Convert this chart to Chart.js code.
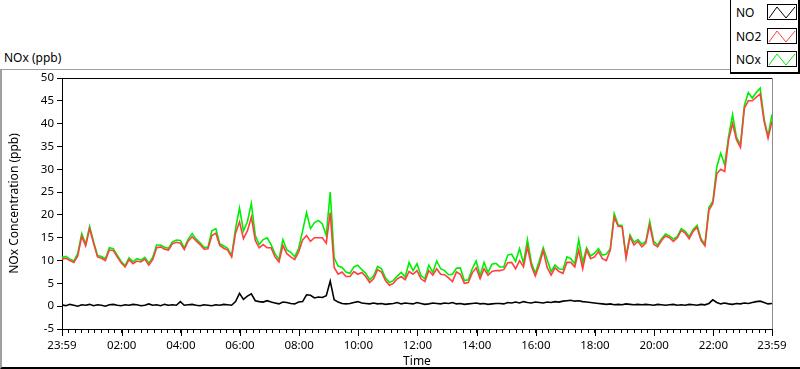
<!DOCTYPE html>
<html>
<head>
<meta charset="utf-8">
<script src="https://cdn.jsdelivr.net/npm/chart.js@4.4.1/dist/chart.umd.min.js"></script>
<style>
  body { margin: 0; background: #fff; font-family: "Noto Sans", sans-serif; color: #000; }
  #wrap { position: relative; width: 800px; height: 369px; overflow: hidden; }
  #frame { position: absolute; left: 0; top: 69px; width: 800px; height: 300px; box-sizing: border-box;
           border-top: 1px solid #a0a0a0; border-left: 2px solid #a0a0a0; border-bottom: 2px solid #000; }
  #title { position: absolute; left: 4px; top: 49px; font-size: 12px; }
  #chart { position: absolute; left: 0; top: 0; }
  #legend { position: absolute; left: 730px; top: -1px; width: 67px; height: 72px; background: #fff;
            border: 1px solid #000; border-width: 1px 2px 2px 1px; font-size: 12px; }
  .item { position: absolute; left: 5px; height: 18px; line-height: 18px; }
  .item svg { position: absolute; left: 31px; top: 0; border: 1px solid #000; background: #fff; }
</style>
</head>
<body>
<div id="wrap">
  <div id="frame"></div>
  <div id="title">NOx (ppb)</div>
  <canvas id="chart" width="800" height="369"></canvas>
  <div id="legend"></div>
</div>
<script>
// one sample every 8 minutes, first one at 23:59
const STEP_MIN = 8;

const noValues = [
  0.3,0.1,0.4,0.2,0.0,0.3,0.2,0.4,0.1,0.3,0.2,0.0,0.3,0.4,0.2,0.1,0.3,0.2,0.4,0.3,
  0.1,0.2,0.5,0.2,0.3,0.1,0.4,0.2,0.3,0.2,1.0,0.2,0.3,0.4,0.2,0.1,0.3,0.2,0.1,0.3,
  0.2,0.4,0.3,0.2,
  1.0,2.8,1.5,2.2,2.7,1.2,1.0,0.9,1.2,0.9,0.7,0.5,0.9,0.8,0.6,0.5,0.9,1.0,2.5,2.4,
  1.8,2.0,1.9,2.3,5.5,1.4,0.9,0.6,0.5,
  0.6,0.8,1.0,0.7,0.6,0.5,0.7,0.5,0.6,0.4,0.5,0.6,0.8,0.5,0.7,0.6,0.5,0.8,0.6,0.4,
  0.5,0.7,0.6,0.5,0.7,0.6,0.8,0.5,0.6,0.4,0.5,0.6,0.7,0.5,0.6,0.4,0.5,0.6,
  0.6,0.5,0.8,0.7,0.9,0.7,1.0,0.8,0.7,0.9,0.8,0.7,0.9,0.8,1.0,0.9,1.1,1.2,1.3,1.1,
  1.2,1.0,0.9,0.8,0.7,0.6,0.5,0.4,0.5,0.3,0.4,0.3,0.5,0.4,0.3,0.4,0.3,0.4,
  0.3,0.2,0.4,0.3,0.2,0.3,0.4,0.2,0.3,0.2,0.4,0.3,0.2,0.4,0.3,0.6,1.4,0.8,0.5,0.7,
  0.5,0.4,0.6,0.5,0.7,0.6,0.8,1.0,1.1,0.8,0.5,0.6
];

const no2Values = [
  10.3,10.5,10.0,9.6,11.0,15.3,13.2,17.0,13.8,10.8,10.5,10.0,12.3,12.2,10.8,9.5,8.6,10.2,9.3,9.9,
  9.7,10.3,9.0,10.2,12.8,13.0,12.5,12.3,13.7,14.0,13.8,12.4,14.3,15.2,14.3,13.5,12.5,
  12.6,15.5,16.0,13.3,12.7,12.3,10.8,16.0,18.5,14.8,16.5,19.5,14.4,12.8,13.5,12.8,12.8,10.8,9.7,13.3,
  11.5,10.8,10.2,11.9,14.5,15.5,14.2,15.0,15.0,15.0,13.8,20.5,8.5,7.0,7.5,6.5,
  6.5,7.6,7.0,7.4,6.5,5.2,6.0,8.0,7.5,5.6,4.6,5.0,6.0,6.5,5.8,7.6,7.0,7.8,6.0,5.4,
  7.8,6.8,8.2,7.0,6.9,6.2,5.4,7.5,7.0,5.0,5.2,7.3,8.4,6.0,8.2,6.8,7.6,7.8,
  7.8,8.0,9.5,9.6,8.2,10.0,8.6,13.0,8.8,6.6,9.0,12.2,8.5,6.8,8.4,7.6,7.2,9.6,9.6,8.6,
  12.3,8.2,12.3,10.4,10.8,12.0,10.4,10.0,12.3,19.5,17.5,17.4,10.5,15.2,13.4,14.2,13.0,13.8,
  17.8,13.6,13.0,14.4,15.4,15.0,14.2,15.0,16.6,16.0,14.8,16.4,17.3,14.4,13.2,21.0,22.5,29.0,30.0,29.5,
  36.5,40.0,36.5,34.8,43.4,45.0,45.0,45.8,46.5,40.5,36.8,40.5
];

const noxValues = [
  10.7,10.9,10.3,9.9,11.6,15.9,13.6,17.5,14.2,11.1,10.9,10.4,12.8,12.6,11.2,9.8,8.9,10.6,9.7,10.4,
  10.1,10.7,9.4,10.7,13.4,13.4,12.9,12.7,14.1,14.5,14.4,12.8,14.7,15.9,14.7,13.9,12.9,
  12.9,16.5,17.0,13.7,13.2,12.7,11.0,17.0,21.5,16.5,18.5,22.5,15.5,13.5,14.6,15.0,13.5,11.5,10.2,14.6,
  12.3,11.8,10.8,12.7,16.5,20.5,17.0,18.3,18.8,18.0,15.5,25.0,10.6,8.8,8.5,7.5,
  7.2,8.6,9.0,8.0,7.2,5.8,6.6,8.7,8.2,6.2,5.2,5.6,6.6,7.4,6.4,9.6,7.8,9.3,6.7,6.0,
  9.0,7.4,9.9,8.2,7.8,6.9,7.0,8.3,8.4,5.6,5.8,8.2,9.9,6.7,9.6,7.4,9.2,9.4,
  8.6,8.6,11.2,11.4,9.8,12.6,9.4,14.6,9.5,7.2,9.9,12.8,10.2,7.6,9.0,8.2,8.0,10.8,10.4,9.3,
  14.6,9.6,12.8,11.0,11.6,12.6,11.2,11.4,12.6,20.3,17.8,17.7,11.0,15.6,14.0,14.6,13.6,14.2,
  18.6,14.2,13.4,14.8,15.8,15.4,14.7,15.3,17.0,16.4,15.2,16.8,17.7,14.8,13.6,21.6,23.0,30.5,33.5,31.0,
  37.2,42.0,37.0,35.4,44.0,46.8,45.6,46.8,47.8,41.0,37.3,42.0
];

const seriesNames = ['NO', 'NO2', 'NOx'];
const seriesColors = ['#000000', '#ff4040', '#00ee00'];

// labelled x ticks, minutes after 23:59
const timeTickMinutes = [0, 121, 241, 361, 481, 601, 721, 841, 961, 1081, 1201, 1321, 1440];
const timeTickLabels = ['23:59', '02:00', '04:00', '06:00', '08:00', '10:00', '12:00',
                        '14:00', '16:00', '18:00', '20:00', '22:00', '23:59'];
const MINOR_PER_MAJOR = 9;

const yMin = -5, yMax = 50, yStep = 5;

function toPoints(vals) {
  return vals.map((v, i) => ({ x: i * STEP_MIN, y: v }));
}

function buildTimeTicks() {
  const ticks = [];
  timeTickMinutes.forEach((m, k) => {
    ticks.push({ value: m, major: true });
    const next = timeTickMinutes[k + 1];
    if (next === undefined) return;
    const step = 120 / MINOR_PER_MAJOR;
    for (let v = m + step; v < next - 4; v += step) ticks.push({ value: v, major: false });
  });
  return ticks;
}

const framePlugin = {
  id: 'frameLines',
  afterDraw(chart) {
    const { ctx, chartArea: a } = chart;
    ctx.save();
    ctx.lineWidth = 1;
    ctx.strokeStyle = '#000';
    ctx.beginPath();
    ctx.moveTo(a.left, a.top + 0.5);
    ctx.lineTo(a.right, a.top + 0.5);
    ctx.stroke();
    ctx.strokeStyle = '#8c8c8c';
    ctx.beginPath();
    ctx.moveTo(a.right + 0.5, a.top);
    ctx.lineTo(a.right + 0.5, a.bottom);
    ctx.stroke();
    // longer marks for the labelled times
    const xs = chart.scales.x;
    ctx.strokeStyle = '#000';
    ctx.beginPath();
    timeTickMinutes.forEach(m => {
      const px = Math.round(xs.getPixelForValue(m)) + 0.5;
      ctx.moveTo(px, a.bottom);
      ctx.lineTo(px, a.bottom + 7);
    });
    ctx.stroke();
    ctx.restore();
  }
};

Chart.defaults.font.family = '"Noto Sans", sans-serif';
Chart.defaults.font.size = 11.5;
Chart.defaults.color = '#000';

const datasets = [noValues, no2Values, noxValues].map((vals, i) => ({
  label: seriesNames[i],
  data: toPoints(vals),
  borderColor: seriesColors[i],
  borderWidth: 1.6,
  pointRadius: 0,
  tension: 0,
  order: [0, 1, 2][i]
}));

const chart = new Chart(document.getElementById('chart'), {
  type: 'line',
  data: { datasets },
  plugins: [framePlugin],
  options: {
    responsive: false,
    animation: false,
    events: [],
    layout: { padding: { left: 0, top: 78, right: 28, bottom: 0 } },
    plugins: { legend: { display: false }, tooltip: { enabled: false } },
    scales: {
      x: {
        type: 'linear',
        min: 0,
        max: 1440,
        afterBuildTicks: s => { s.ticks = buildTimeTicks(); },
        afterFit: s => { s.height = 40; },
        ticks: {
          autoSkip: false,
          maxRotation: 0,
          padding: 6,
          callback: v => {
            const k = timeTickMinutes.indexOf(v);
            return k >= 0 ? timeTickLabels[k] : '';
          }
        },
        grid: { drawOnChartArea: false, tickLength: 4, color: '#000' },
        border: { color: '#000' },
        title: { display: true, text: 'Time', font: { size: 12 }, padding: { top: 0, bottom: 0 } }
      },
      y: {
        min: yMin,
        max: yMax,
        afterFit: s => { s.width = 62; },
        ticks: { stepSize: yStep, padding: 3 },
        grid: { drawOnChartArea: false, tickLength: 5, color: '#000' },
        border: { color: '#000' },
        title: { display: true, text: 'NOx Concentration (ppb)', font: { size: 12 }, padding: { top: 7, bottom: 0 } }
      }
    }
  }
});

// legend built from the chart's own datasets
const legend = document.getElementById('legend');
chart.data.datasets.forEach((ds, i) => {
  const row = document.createElement('div');
  row.className = 'item';
  row.style.top = (4 + i * 23.5) + 'px';
  row.innerHTML = ds.label +
    '<svg width="28" height="14" viewBox="0 0 28 14"><polyline points="1,13 9,2 18,13 27,2" fill="none" stroke="' +
    ds.borderColor + '" stroke-width="1"/></svg>';
  legend.appendChild(row);
});
</script>
</body>
</html>
